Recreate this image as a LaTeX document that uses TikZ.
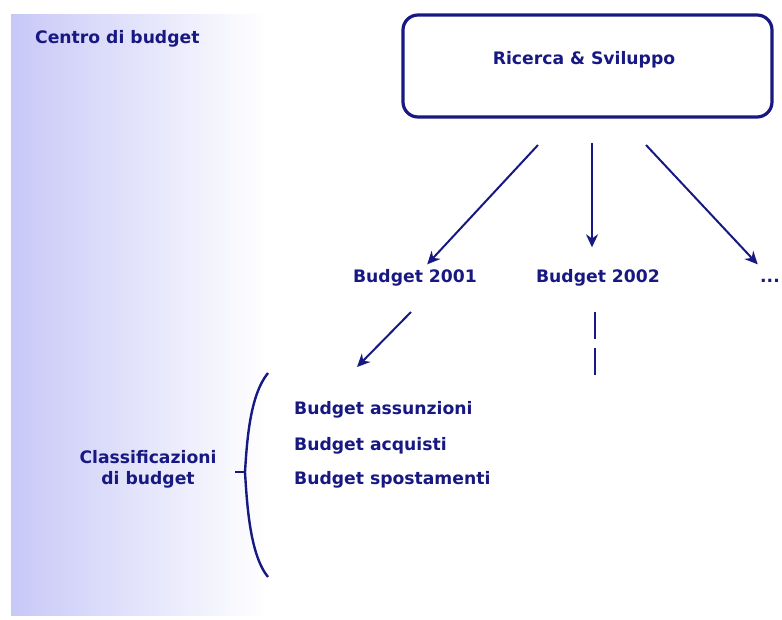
\documentclass[tikz,border=0pt]{standalone}
\usepackage{fontspec}
\setmainfont{DejaVu Sans}
\usetikzlibrary{arrows.meta}
\definecolor{navy}{RGB}{24,24,130}
\definecolor{panel}{RGB}{200,200,248}
\tikzset{
  lbl/.style={font=\bfseries\fontsize{17.2}{21}\selectfont, text=navy,
    inner sep=2pt, text height=12.5pt, text depth=3.5pt},
  box/.style={draw=navy, line width=3.2pt, rounded corners=15pt,
    minimum width=369pt, minimum height=102pt},
  link/.style={draw=navy, line width=2pt, -{Stealth[length=13pt,width=12pt]}},
}
\begin{document}
\begin{tikzpicture}[x=1pt,y=-1pt]
      \useasboundingbox (0,0) rectangle (782,619);
      \shade[left color=panel, right color=white] (11,14) rectangle (266,615);
      \node[box] (rdbox) at (587.5,66) {};
      \draw
        (33,43) node[lbl, anchor=base west] (cdb){Centro di budget}
        (584,64) node[lbl, anchor=base] (rd){Ricerca \& Sviluppo}
        (415,282) node[lbl, anchor=base] (b2001){Budget 2001}
        (598,282) node[lbl, anchor=base] (b2002){Budget 2002}
        (770,282) node[lbl, anchor=base] (more){...}
        (148,484) node[lbl, anchor=base, align=center, text height=,
          text depth=] (cls){Classificazioni\\di budget}
        (292,414) node[lbl, anchor=base west] (bass){Budget assunzioni}
        (292,450) node[lbl, anchor=base west] (bacq){Budget acquisti}
        (292,484) node[lbl, anchor=base west] (bspo){Budget spostamenti};
      \coordinate (t1) at (538,145);
      \coordinate (t2) at (592,143);
      \coordinate (t3) at (646,145);
      \coordinate (t4) at (411,312);
      \coordinate (h4) at (357,367);
      \coordinate (d1) at (595,312);
      \begin{scope}[link]
        \draw[shorten >=4pt] (t1) to (b2001);
        \draw[shorten >=20pt] (t2) to (t2 |- b2002.north);
        \draw[shorten >=4pt] (t3) to (more);
        \draw (t4) to (h4);
      \end{scope}
      \draw[navy, line width=2pt, dash pattern=on 27pt off 9pt] (d1) -- ++(0,64);
      \draw[navy, line width=2.4pt] (268,373) .. controls (250,395) and (247,440) .. (245,472)
        .. controls (247,505) and (250,555) .. (268,577);
      \draw[navy, line width=2.4pt] (235,472) -- (245,472);
    \end{tikzpicture}
\end{document}
